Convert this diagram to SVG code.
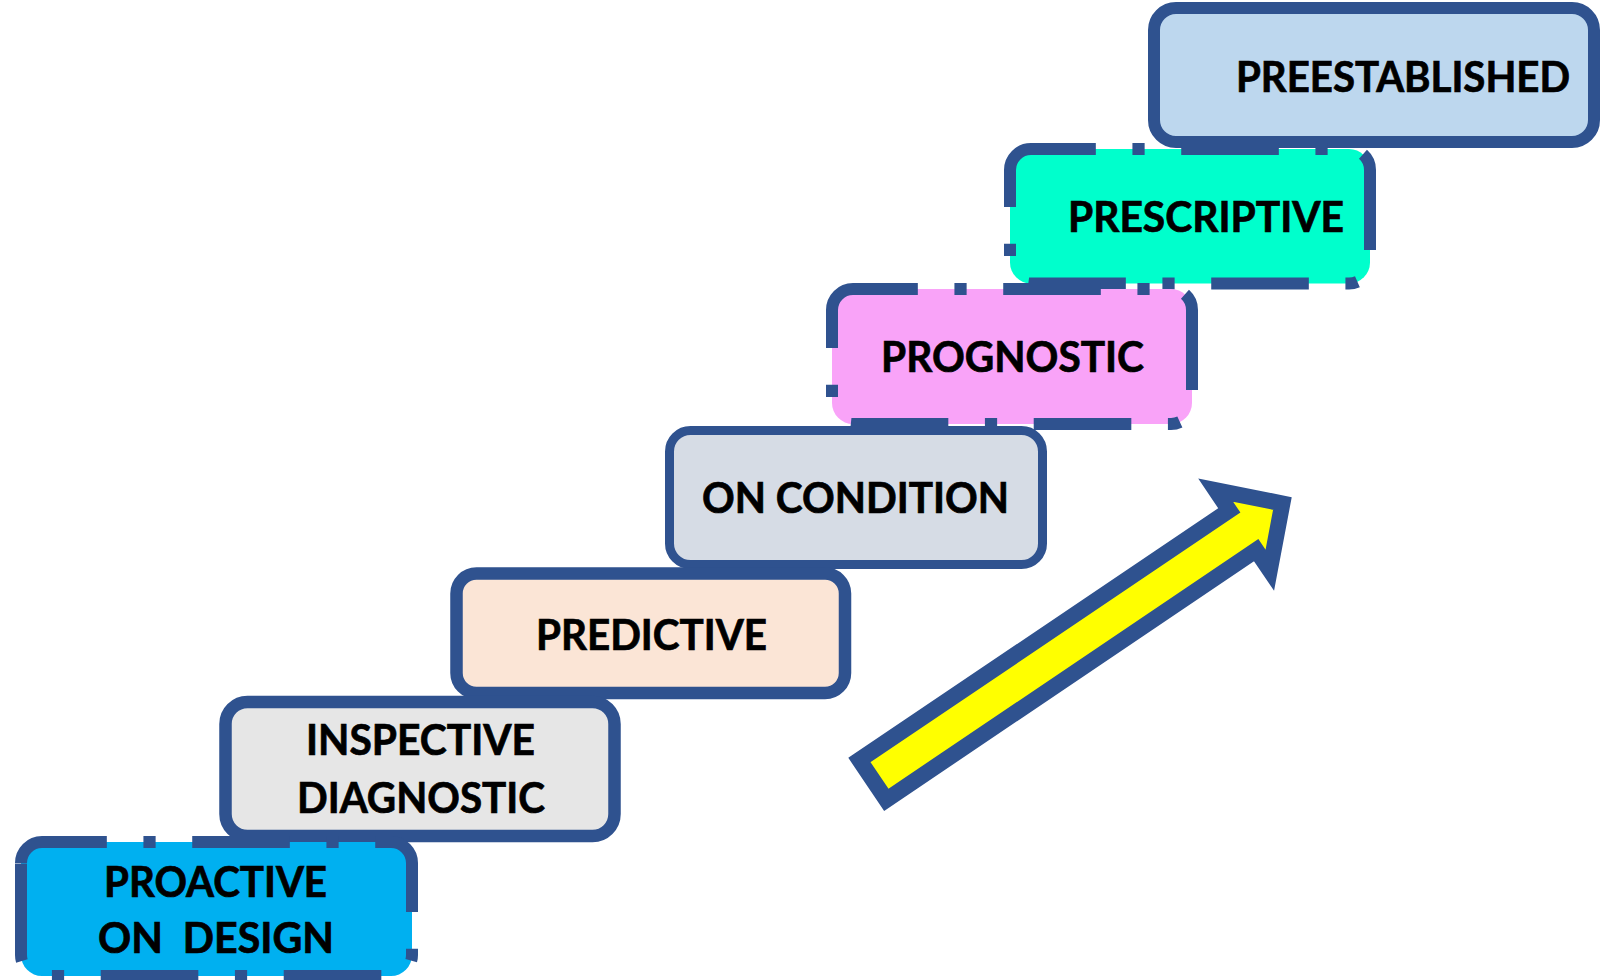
<svg xmlns="http://www.w3.org/2000/svg" width="1600" height="980" viewBox="0 0 1600 980">
  <style>
    .box { stroke: #2F528F; }
    .dash { stroke: #2F528F; stroke-width: 12; stroke-dasharray: 97.6 36.6 12.2 36.6; stroke-linecap: butt; }
    .lbl { font-family: Lato, "Open Sans", "Liberation Sans", sans-serif; font-weight: 700; font-size: 42px; fill: #000000; stroke: #000000; stroke-width: 0.7px; }
  </style>
  <rect width="1600" height="980" fill="#FFFFFF"/>

  <!-- staircase levels, top to bottom -->
  <g id="preestablished">
    <rect class="box" x="1154" y="8" width="440" height="134" rx="22" fill="#BDD7EE" stroke-width="12"/>
    <text class="lbl" x="1236" y="92" textLength="334" lengthAdjust="spacingAndGlyphs">PREESTABLISHED</text>
  </g>

  <g id="prescriptive">
    <path class="dash" fill="#00FFCC" d="M1010,170 A21,21 0 0 1 1031,149 H1349 A21,21 0 0 1 1370,170 V262.5 A21,21 0 0 1 1349,283.5 H1031 A21,21 0 0 1 1010,262.5 Z"/>
    <text class="lbl" x="1068" y="232" textLength="276" lengthAdjust="spacingAndGlyphs">PRESCRIPTIVE</text>
  </g>

  <g id="prognostic">
    <path class="dash" fill="#F9A3F8" d="M832,310 A21,21 0 0 1 853,289 H1171 A21,21 0 0 1 1192,310 V403 A21,21 0 0 1 1171,424 H853 A21,21 0 0 1 832,403 Z"/>
    <text class="lbl" x="881" y="372" textLength="263" lengthAdjust="spacingAndGlyphs">PROGNOSTIC</text>
  </g>

  <g id="on-condition">
    <rect class="box" x="669.5" y="430.5" width="373" height="134" rx="21" fill="#D6DCE5" stroke-width="9"/>
    <text class="lbl" x="702" y="513" textLength="307" lengthAdjust="spacingAndGlyphs">ON CONDITION</text>
  </g>

  <g id="predictive">
    <rect class="box" x="456.5" y="573.5" width="388.5" height="119.5" rx="20" fill="#FBE5D6" stroke-width="12.5"/>
    <text class="lbl" x="536" y="650" textLength="231" lengthAdjust="spacingAndGlyphs">PREDICTIVE</text>
  </g>

  <g id="inspective-diagnostic">
    <rect class="box" x="225.5" y="702" width="389" height="134" rx="22" fill="#E6E6E6" stroke-width="12.5"/>
    <text class="lbl" x="306" y="755" textLength="229" lengthAdjust="spacingAndGlyphs">INSPECTIVE</text>
    <text class="lbl" x="297" y="813" textLength="248" lengthAdjust="spacingAndGlyphs">DIAGNOSTIC</text>
  </g>

  <g id="proactive-on-design">
    <path class="dash" fill="#00B0F0" d="M21,863 A21,21 0 0 1 42,842 H391 A21,21 0 0 1 412,863 V955 A21,21 0 0 1 391,976 H42 A21,21 0 0 1 21,955 Z"/>
    <text class="lbl" x="104" y="897" textLength="223" lengthAdjust="spacingAndGlyphs">PROACTIVE</text>
    <text class="lbl" x="98" y="953" textLength="236" lengthAdjust="spacingAndGlyphs" xml:space="preserve">ON  DESIGN</text>
  </g>

  <!-- rising block arrow -->
  <g id="connectors">
    <polygon points="859.4,760.0 1229.3,510.4 1215.7,490.2 1282.4,503.5 1269.8,570.3 1256.2,550.2 886.3,799.8"
             fill="#FFFF00" stroke="#2F528F" stroke-width="16" stroke-linejoin="miter" stroke-miterlimit="4"/>
  </g>
</svg>
